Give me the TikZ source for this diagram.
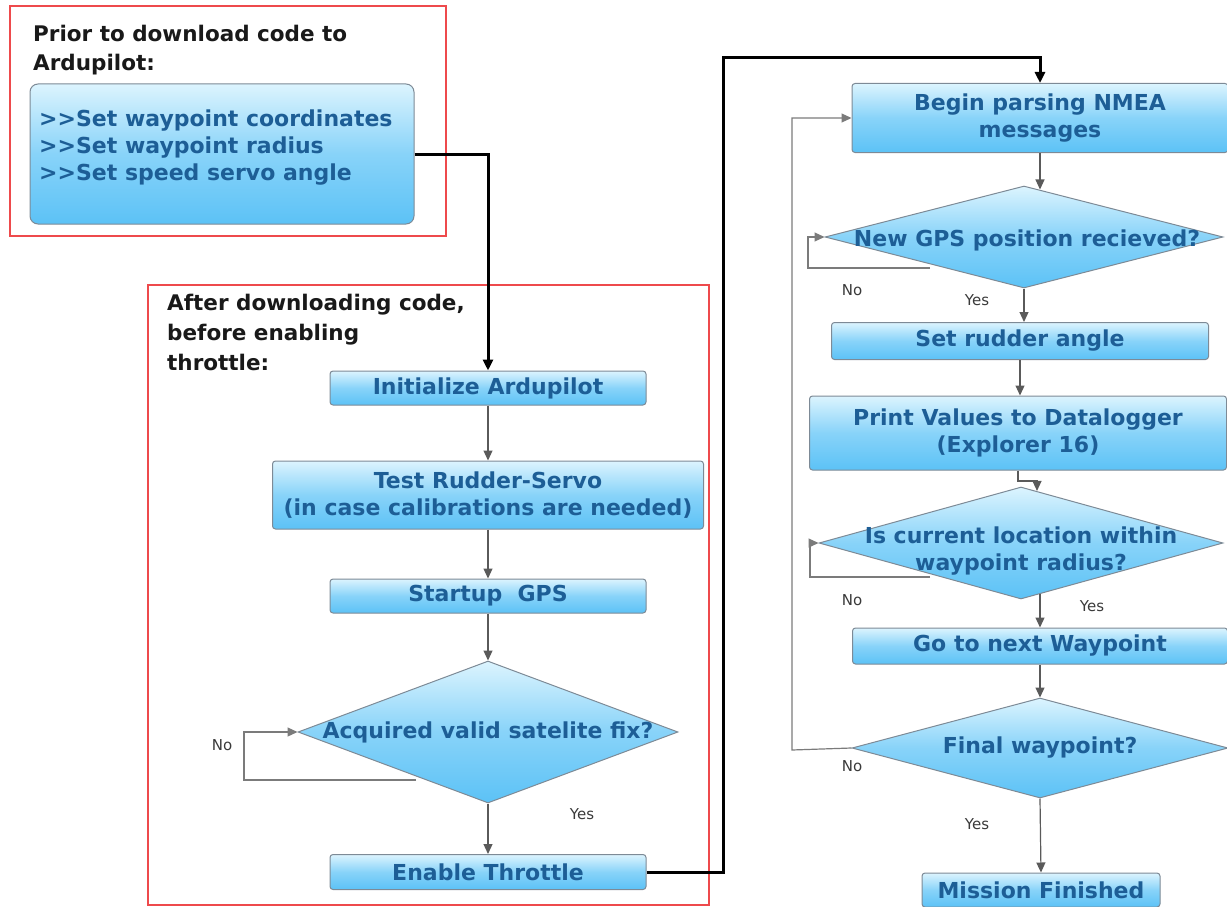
\documentclass[tikz,border=0pt]{standalone}
\usepackage{fontspec}
\setmainfont{DejaVu Sans}
\usetikzlibrary{shapes.geometric,arrows.meta,calc}
\definecolor{boxtext}{HTML}{1D5E96}
\definecolor{boxedge}{HTML}{7D8A96}
\definecolor{filltop}{HTML}{DCF4FE}
\definecolor{fillmid}{HTML}{88D3F9}
\definecolor{fillbot}{HTML}{5CC2F6}
\definecolor{framered}{HTML}{EE4A4C}
\definecolor{flowgray}{HTML}{5A5A5A}
\definecolor{labelgray}{HTML}{3A3A3A}
\newcommand\gtgt{>\kern0pt>}

\begin{document}
\begin{tikzpicture}[x=1pt,y=-1pt,
  glossy/.style={draw=boxedge, line width=1pt, top color=filltop, bottom color=fillbot, middle color=fillmid},
  proc/.style={glossy, rectangle, rounded corners=3pt, inner sep=0pt, text=boxtext,
    font=\fontsize{22}{27}\selectfont\bfseries, align=center},
  decision/.style={glossy, diamond, inner sep=0pt},
  dtext/.style={text=boxtext, font=\fontsize{22}{27}\selectfont\bfseries, align=center, inner sep=0pt},
  heading/.style={text=black!90, font=\fontsize{21.5}{30}\selectfont\bfseries, align=left, inner sep=0pt, anchor=west},
  redframe/.style={draw=framered, line width=1.2pt, rectangle, inner sep=0pt},
  flow/.style={draw=flowgray, line width=1.2pt, -{Triangle[length=10pt,width=9pt]}},
  loopline/.style={draw=flowgray!80, line width=1.2pt, -{Triangle[length=10pt,width=9pt]}},
  mainlink/.style={draw=black, line width=3pt, -{Triangle[length=11pt,width=10pt]}},
  answer/.style={text=labelgray, font=\fontsize{15}{17}\selectfont, inner sep=0pt}
]
\useasboundingbox (0,0) rectangle (1227,907);

% ---- set-up before downloading ----
\node[redframe, minimum width=436pt, minimum height=230pt] (frameA) at (228,121) {};
\node[heading, font=\fontsize{21.5}{29}\selectfont\bfseries] (headA) at (33,50) {Prior to download code to\\Ardupilot:};
\node[glossy, rectangle, rounded corners=8pt, inner sep=0pt,
      minimum width=384pt, minimum height=140pt] (setup) at (222,154) {};
\node[text=boxtext, font=\fontsize{22}{27}\selectfont\bfseries, align=left, inner sep=0pt,
      anchor=west] (setuptext) at (39,148)
  {\gtgt Set waypoint coordinates\\\gtgt Set waypoint radius\\\gtgt Set speed servo angle};

% ---- steps after downloading ----
\node[redframe, minimum width=561pt, minimum height=620pt] (frameB) at (428.5,595) {};
\node[heading, font=\fontsize{21.5}{30}\selectfont\bfseries] (headB) at (167,332) {After downloading code,\\before enabling\\throttle:};

\node[proc, minimum width=316pt, minimum height=34pt] (init) at (488,388) {Initialize Ardupilot};
\node[proc, minimum width=431pt, minimum height=68pt] (rudtest) at (488,495)
  {Test Rudder-Servo\\(in case calibrations are needed)};
\node[proc, minimum width=316pt, minimum height=34pt] (gps) at (488,596) {Startup\ \ GPS};
\node[decision, minimum width=380pt, minimum height=142pt] (fix) at (488,732) {};
\node[dtext] (fixtext) at (fix) {Acquired valid satelite fix?};
\node[proc, minimum width=316pt, minimum height=35pt] (thr) at (488,872) {Enable Throttle};

\node[answer] (fixno) at (222,745) {No};
\node[answer] (fixyes) at (582,814) {Yes};

% ---- navigation loop ----
\node[proc, minimum width=376pt, minimum height=69pt] (nmea) at (1040,118)
  {Begin parsing NMEA\\messages};
\node[decision, minimum width=398pt, minimum height=102pt] (newpos) at (1024,237) {};
\node[dtext] (newpostext) at (1027,240) {New GPS position recieved?};
\node[proc, minimum width=377pt, minimum height=37pt] (rudder) at (1020,341) {Set rudder angle};
\node[proc, minimum width=417pt, minimum height=74pt] (logger) at (1018,433)
  {Print Values to Datalogger\\(Explorer 16)};
\node[decision, minimum width=404pt, minimum height=112pt] (inrad) at (1021,543) {};
\node[dtext] (inradtext) at (1021,551) {Is current location within\\waypoint radius?};
\node[proc, minimum width=375pt, minimum height=36pt] (next) at (1040,646) {Go to next Waypoint};
\node[decision, minimum width=376pt, minimum height=100pt] (final) at (1040,748) {};
\node[dtext] (finaltext) at (final) {Final waypoint?};
\node[proc, minimum width=238pt, minimum height=34pt] (done) at (1041,890) {Mission Finished};

\node[answer] (newposno) at (852,290) {No};
\node[answer] (newposyes) at (977,300) {Yes};
\node[answer] (inradno) at (852,600) {No};
\node[answer] (inradyes) at (1092,606) {Yes};
\node[answer] (finalno) at (852,766) {No};
\node[answer] (finalyes) at (977,824) {Yes};

% ---- bend points ----
\coordinate (fixloop) at (416,780);
\coordinate (fixcorner) at (244,780);
\coordinate (bridge) at (723,58);
\coordinate (posloop) at (930,268);
\coordinate (poscorner) at (808,268);
\coordinate (logbend) at (1037,481);
\coordinate (radloop) at (930,577);
\coordinate (radcorner) at (810,577);
\coordinate (finalcorner) at (792,750);

% ---- connectors ----
\draw[mainlink] (setup.east) -| (init.north);
\draw[mainlink] (thr.east) -| (bridge) -| (nmea.north);

\draw[flow] (init.south) -- (rudtest.north);
\draw[flow] (rudtest.south) -- (gps.north);
\draw[flow] (gps.south) -- (fix.north);
\draw[flow] (fix.south) -- (thr.north);
\draw[loopline] (fixloop) -- (fixcorner) |- (fix.west);

\draw[flow] (nmea.south) -- (nmea.south |- newpos.72);
\draw[loopline] (posloop) -- (poscorner) |- (newpos.west);
\draw[flow] (newpos.south) -- (newpos.south |- rudder.north);
\draw[flow] (rudder.south) -- (rudder.south |- logger.north);
\draw[flow] (logger.south) |- (logbend) -- (logbend |- inrad.73);
\draw[loopline] (radloop) -- (radcorner) |- (inrad.west);
\draw[flow] (next.north |- inrad.-70) -- (next.north);
\draw[flow] (next.south) -- (final.north);
\draw[flow] (final.south) -- (done.north);
\draw[loopline] (final.west) -- (finalcorner) |- (nmea.west);
\end{tikzpicture}
\end{document}
